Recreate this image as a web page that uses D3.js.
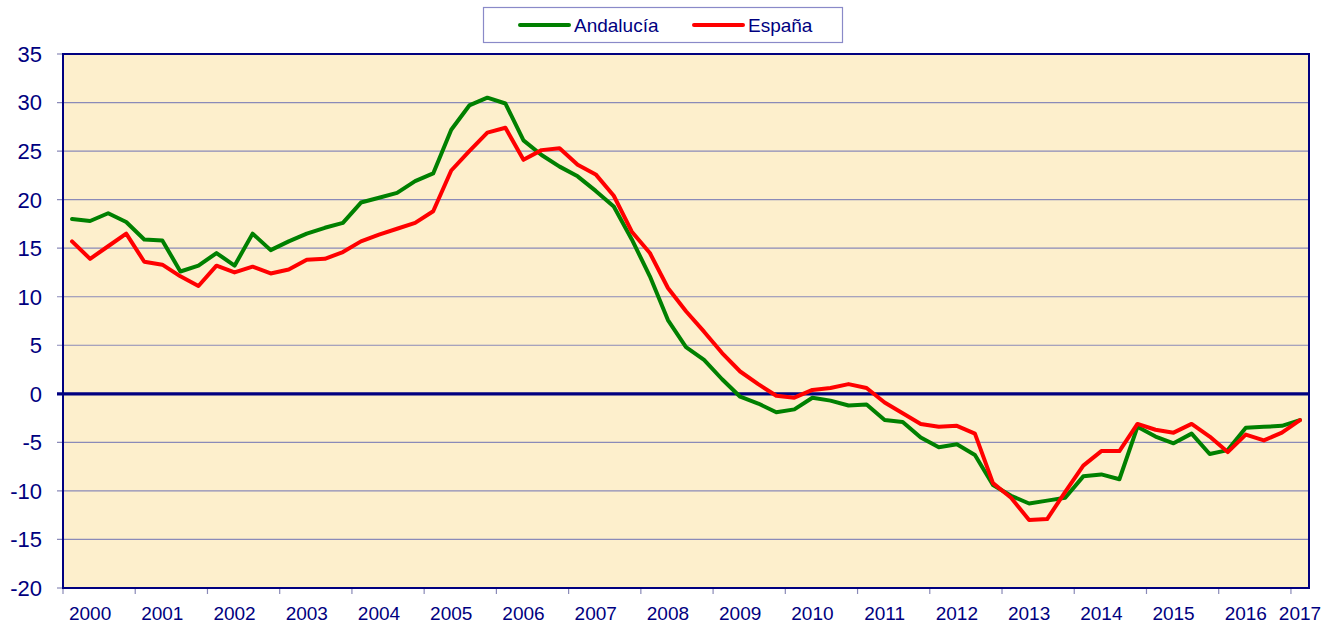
<!DOCTYPE html>
<html>
<head>
<meta charset="utf-8">
<script src="https://cdn.jsdelivr.net/npm/d3@7/dist/d3.min.js"></script>
<style>
  html, body { margin: 0; padding: 0; background: #ffffff; }
  svg { display: block; font-family: "Liberation Sans", Arial, sans-serif; }
</style>
</head>
<body>
<svg id="chart" width="1339" height="626"></svg>
<script>
// ---- DATA ----
const years = [2000, 2001, 2002, 2003, 2004, 2005, 2006, 2007, 2008,
               2009, 2010, 2011, 2012, 2013, 2014, 2015, 2016, 2017];
const quarters = ["T1", "T2", "T3", "T4"];
const yTicks = [-20, -15, -10, -5, 0, 5, 10, 15, 20, 25, 30, 35];
const seriesNames = ["Andalucía", "España"];

const andalucia = [
  18.0, 17.8, 18.6, 17.7, 15.9, 15.8, 12.6, 13.2, 14.5, 13.2, 16.5, 14.8,
  15.7, 16.5, 17.1, 17.6, 19.7, 20.2, 20.7, 21.9, 22.7, 27.2, 29.7, 30.5,
  29.9, 26.1, 24.6, 23.4, 22.4, 20.9, 19.3, 15.9, 12.1, 7.6, 4.8, 3.5,
  1.5, -0.3, -1.0, -1.9, -1.6, -0.4, -0.7, -1.2, -1.1, -2.7, -2.9, -4.5,
  -5.5, -5.2, -6.3, -9.4, -10.5, -11.3, -11.0, -10.7, -8.5, -8.3, -8.8, -3.4,
  -4.4, -5.1, -4.1, -6.2, -5.8, -3.5, -3.4, -3.3, -2.7
];
const espana = [
  15.7, 13.9, 15.2, 16.5, 13.6, 13.3, 12.1, 11.1, 13.2, 12.5, 13.1, 12.4,
  12.8, 13.8, 13.9, 14.6, 15.7, 16.4, 17.0, 17.6, 18.8, 23.0, 25.0, 26.9,
  27.4, 24.1, 25.1, 25.3, 23.6, 22.6, 20.4, 16.7, 14.5, 10.9, 8.5, 6.4,
  4.2, 2.3, 1.0, -0.2, -0.4, 0.4, 0.6, 1.0, 0.6, -0.9, -2.0, -3.1,
  -3.4, -3.3, -4.1, -9.2, -10.7, -13.0, -12.9, -10.1, -7.4, -5.9, -5.9, -3.1,
  -3.7, -4.0, -3.1, -4.4, -6.0, -4.2, -4.8, -4.0, -2.7
];

// categories: one per quarter, 2000-T1 ... 2017-T1
const categories = [];
years.forEach(y => quarters.forEach(q => categories.push(y + "-" + q)));
const cats = categories.slice(0, andalucia.length);

// ---- LAYOUT ----
const svg = d3.select("#chart");
const L = 63, R = 1309, T = 54, B = 588;
const navy = "#000080";
const gridCol = "#8a8ab8";

const x = d3.scaleBand().domain(cats).range([L, R]).padding(0);
const y = d3.scaleLinear().domain([-20, 35]).range([B, T]);
const cx = c => x(c) + x.bandwidth() / 2;

// plot background
svg.append("rect").attr("x", L).attr("y", T).attr("width", R - L).attr("height", B - T)
  .attr("fill", "#fdefcc");

// gridlines (with outward ticks on the left)
svg.append("g").selectAll("line").data(yTicks.filter(t => t !== 0 && t !== 35 && t !== -20))
  .join("line")
  .attr("x1", L - 6).attr("x2", R).attr("y1", d => y(d)).attr("y2", d => y(d))
  .attr("stroke", gridCol).attr("stroke-width", 1.2);
svg.append("g").selectAll("line").data([35, -20]).join("line")
  .attr("x1", L - 6).attr("x2", L).attr("y1", d => y(d)).attr("y2", d => y(d))
  .attr("stroke", gridCol).attr("stroke-width", 1.2);

// x ticks at year boundaries (below axis)
const yearStarts = years.map(yr => yr + "-T1").filter(c => cats.includes(c));
svg.append("g").selectAll("line").data(yearStarts).join("line")
  .attr("x1", d => x(d)).attr("x2", d => x(d)).attr("y1", B).attr("y2", B + 6)
  .attr("stroke", gridCol).attr("stroke-width", 1.2);

// plot border
svg.append("rect").attr("x", L).attr("y", T).attr("width", R - L).attr("height", B - T)
  .attr("fill", "none").attr("stroke", navy).attr("stroke-width", 2);

// y axis labels
svg.append("g").selectAll("text").data(yTicks).join("text")
  .attr("x", 42).attr("y", d => y(d)).attr("dy", "0.36em")
  .attr("text-anchor", "end").attr("fill", navy)
  .attr("font-size", 22).text(d => d);

// x axis labels (centred on the year's 2nd quarter, or 1st if only one)
svg.append("g").selectAll("text").data(years).join("text")
  .attr("x", yr => {
    const q1 = yr + "-T1", q2 = yr + "-T2";
    return cats.includes(q2) ? cx(q2) : cx(q1);
  })
  .attr("y", 620).attr("text-anchor", "middle").attr("fill", navy)
  .attr("font-size", 19).text(d => d);

// zero line
svg.append("line").attr("x1", L - 6).attr("x2", R).attr("y1", y(0)).attr("y2", y(0))
  .attr("stroke", navy).attr("stroke-width", 3.2);

// series lines
const line = d3.line().x((d, i) => cx(cats[i])).y(d => y(d));
const colors = ["#008000", "#ff0000"];
[andalucia, espana].forEach((s, k) => {
  svg.append("path").datum(s).attr("d", line)
    .attr("fill", "none").attr("stroke", colors[k]).attr("stroke-width", 4)
    .attr("stroke-linejoin", "round").attr("stroke-linecap", "round");
});

// legend
const lg = svg.append("g");
lg.append("rect").attr("x", 483.5).attr("y", 7.5).attr("width", 359).attr("height", 35)
  .attr("fill", "#ffffff").attr("stroke", "#8a8ac8").attr("stroke-width", 1.2);
const legX = [520, 694];
seriesNames.forEach((n, k) => {
  lg.append("line").attr("x1", legX[k]).attr("x2", legX[k] + 49).attr("y1", 25).attr("y2", 25)
    .attr("stroke", colors[k]).attr("stroke-width", 4).attr("stroke-linecap", "round");
  lg.append("text").attr("x", legX[k] + 54).attr("y", 32).attr("fill", navy)
    .attr("font-size", 19).text(n);
});
</script>
</body>
</html>
